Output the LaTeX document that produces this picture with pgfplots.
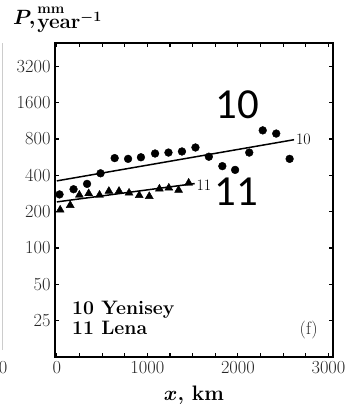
\documentclass[border=0pt]{standalone}
\usepackage{amsmath}
\usepackage{pgfplots}
\pgfplotsset{compat=1.18}
\usepackage{fontspec}
\newfontfamily\calibri{Carlito}
\begin{document}
\begin{tikzpicture}
\begin{axis}[
  name=ax,
  scale only axis,
  width=278bp, height=314bp,
  xmin=-20, xmax=3050,
  ymode=log, log basis y=2,
  ymin=12.5, ymax=5000,
  xtick={0,1000,2000,3000},
  xticklabels={0,1000,2000,3000},
  minor xtick={250,500,750,1250,1500,1750,2250,2500,2750},
  ytick={25,50,100,200,400,800,1600,3200},
  yticklabels={25,50,100,200,400,800,1600,3200},
  tick align=inside,
  major tick length=4.5bp, minor tick length=4.5bp,
  every tick/.style={black, line width=1.1pt},
  axis line style={line width=1.5pt},
  ticklabel style={font=\fontsize{18.5}{18.5}\selectfont, text=black!85},
  xticklabel style={yshift=-1bp},
  yticklabel style={xshift=-1bp},
  clip=false,
]
% regression lines
\addplot[black, line width=1.5pt] coordinates {(0,360) (2620,790)};
\addplot[black, line width=1.5pt] coordinates {(0,241) (1523,342)};
% Yenisey (10)
\addplot[only marks, mark=*, mark size=3.9bp, black] coordinates {
(30,278) (185,307) (334,340) (483,416) (639,556) (787,548) (929,565)
(1085,607) (1233,618) (1382,631) (1531,681) (1679,571) (1828,477)
(1969,444) (2125,618) (2274,944) (2423,888) (2571,548)};
% Lena (11)
\addplot[only marks, mark=triangle*, mark size=4.6bp, black] coordinates {
(37,207) (148,226) (249,275) (352,283) (472,275) (575,296) (687,296)
(798,286) (910,273) (1021,268) (1133,309) (1237,315) (1345,302) (1456,346)};
\node[anchor=west, font=\fontsize{16}{16}\selectfont, inner sep=1bp] at (axis cs:2630,800) {10};
\node[anchor=west, font=\fontsize{16}{16}\selectfont, inner sep=1bp] at (axis cs:1530,330) {11};
\node[font=\calibri\fontsize{43}{43}\selectfont, inner sep=0pt] at (axis cs:1994,1538) {10};
\node[font=\calibri\fontsize{43}{43}\selectfont, inner sep=0pt] at (axis cs:1984,290) {11};
\end{axis}
\node[anchor=base west, inner sep=0pt, font=\fontsize{19.5}{20}\selectfont\bfseries]
  at ([xshift=17bp,yshift=42bp]ax.south west) {10 Yenisey};
\node[anchor=base west, inner sep=0pt, font=\fontsize{19.5}{20}\selectfont\bfseries]
  at ([xshift=17bp,yshift=23bp]ax.south west) {11 Lena};
\node[anchor=base east, inner sep=0pt, font=\fontsize{18}{20}\selectfont, text=black!85]
  at ([xshift=-15bp,yshift=23bp]ax.south east) {(f)};
\node[anchor=base, inner sep=0pt, font=\fontsize{21}{24}\selectfont]
  at ([yshift=-43bp]ax.south) {{\boldmath$x$}\textbf{, km}};
% y label: P, mm / year^-1
\node[anchor=base west, inner sep=0pt, font=\fontsize{20}{24}\selectfont]
  at ([xshift=-42bp,yshift=18.5bp]ax.north west)
  {{\boldmath$P,$}\hspace{2bp}\rlap{\raisebox{11bp}{\fontsize{14.5}{15}\selectfont\bfseries mm}}\raisebox{-4.5bp}{\boldmath$\mathbf{year}^{-1}$}};
\draw[black!20, line width=1pt] ([xshift=-53bp,yshift=7bp]ax.south west) -- ([xshift=-53bp]ax.north west);
\node[anchor=center, inner sep=0pt, font=\fontsize{18.5}{18.5}\selectfont, text=black!85]
  at ([xshift=-52bp,yshift=-11bp]ax.south west) {0};
\pgfresetboundingbox
\useasboundingbox ([xshift=-55bp,yshift=-54bp]ax.south west) rectangle ([xshift=12bp,yshift=43bp]ax.north east);
\end{tikzpicture}
\end{document}
